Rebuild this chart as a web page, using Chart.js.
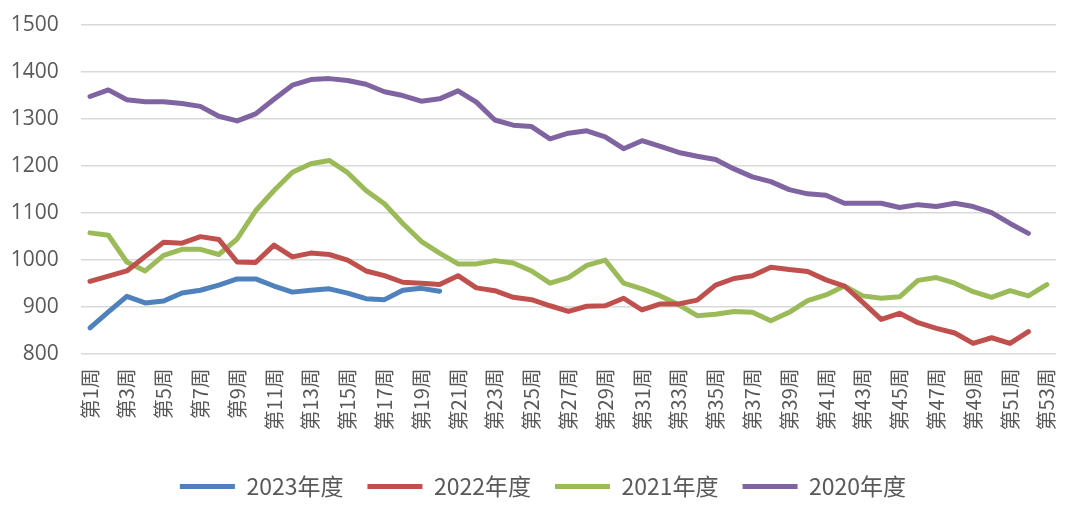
<!DOCTYPE html>
<html>
<head>
<meta charset="utf-8">
<script src="https://cdn.jsdelivr.net/npm/chart.js@4/dist/chart.umd.min.js"></script>
<style>
html,body{margin:0;padding:0;background:#fff;}
#wrap{width:1080px;height:512px;position:relative;}
</style>
</head>
<body>
<div id="wrap"><canvas id="c" width="1080" height="512"></canvas></div>
<script>
const weeks = Array.from({length: 53}, (_, i) => '第' + (i + 1) + '周');
const seriesNames = ['2023年度', '2022年度', '2021年度', '2020年度'];
const s2023 = [856,890,923,909,913,930,936,947,960,960,945,932,936,939,930,918,916,936,940,934];
const s2022 = [955,966,977,1008,1038,1036,1050,1044,996,995,1032,1007,1015,1012,
               1000,977,967,953,951,948,967,941,935,921,916,903,891,902,
               903,919,894,907,907,915,947,961,967,985,980,976,958,
               945,910,874,887,867,855,845,823,835,823,848];
const s2021 = [1058,1053,996,977,1010,1023,1023,1012,1045,1105,1148,1187,1205,1212,
               1186,1148,1120,1078,1040,1015,992,992,999,994,977,951,963,989,
               1000,951,939,924,905,882,885,891,889,871,889,914,926,
               945,924,919,922,957,963,951,933,921,935,924,948];
const s2020 = [1348,1362,1341,1337,1337,1333,1327,1306,1296,1311,1342,1372,1384,1386,
               1382,1374,1358,1350,1338,1343,1360,1336,1298,1287,1284,1258,1270,1275,
               1262,1237,1254,1242,1229,1221,1214,1194,1177,1167,1150,1141,1138,
               1121,1121,1121,1112,1118,1114,1121,1114,1101,1078,1057];
const yMin = 800, yMax = 1500, yStep = 100;
const colors = ['#4F81BD', '#C0504D', '#9BBB59', '#8064A2'];
const values = [s2023, s2022, s2021, s2020];

const textColor = '#595959';
const datasets = values.map((v, i) => ({
  label: seriesNames[i],
  data: v,
  borderColor: colors[i],
  backgroundColor: colors[i],
  borderWidth: 5,
  borderCapStyle: 'round',
  borderJoinStyle: 'round',
  pointRadius: 0,
  pointHoverRadius: 0,
  tension: 0,
  fill: false
}));

const legendShift = {
  id: 'legendShift',
  beforeDraw(chart) {
    const lg = chart.legend;
    if (lg && !lg._shifted) {
      lg.left += 15; lg.right += 15; lg._shifted = true;
    }
  }
};

new Chart(document.getElementById('c'), {
  type: 'line',
  data: { labels: weeks, datasets },
  options: {
    responsive: false,
    animation: false,
    devicePixelRatio: 1,
    layout: { padding: { top: 25, right: 24, left: 0, bottom: 4 } },
    plugins: {
      title: { display: false },
      tooltip: { enabled: false },
      legend: {
        position: 'bottom',
        labels: {
          usePointStyle: true,
          pointStyle: 'line',
          pointStyleWidth: 55,
          boxHeight: 23,
          padding: 24,
          color: textColor,
          font: { family: "'Noto Sans CJK SC', 'Noto Sans', sans-serif", size: 23 }
        }
      }
    },
    scales: {
      x: {
        type: 'category',
        offset: true,
        grid: { display: false },
        border: { display: false },
        ticks: {
          autoSkip: false,
          minRotation: 90,
          maxRotation: 90,
          padding: 6,
          color: textColor,
          font: { family: "'Noto Sans CJK SC', sans-serif", size: 20 },
          callback: function(val, idx) { return idx % 2 === 0 ? this.getLabelForValue(val) : ''; }
        },
        afterFit: (scale) => { scale.height = 96.8; scale.paddingLeft = 0; scale.paddingRight = 0; }
      },
      y: {
        min: yMin,
        max: yMax,
        grid: { color: '#d9d9d9', lineWidth: 1.5, drawTicks: false },
        border: { display: false },
        ticks: {
          stepSize: yStep,
          padding: 22,
          color: textColor,
          font: { family: "'Open Sans', 'Noto Sans', sans-serif", size: 21 },
          callback: (v) => String(v)
        },
        afterFit: (scale) => { scale.width = 80.8; scale.paddingTop = 0; scale.paddingBottom = 0; }
      }
    }
  },
  plugins: [legendShift]
});
</script>
</body>
</html>
